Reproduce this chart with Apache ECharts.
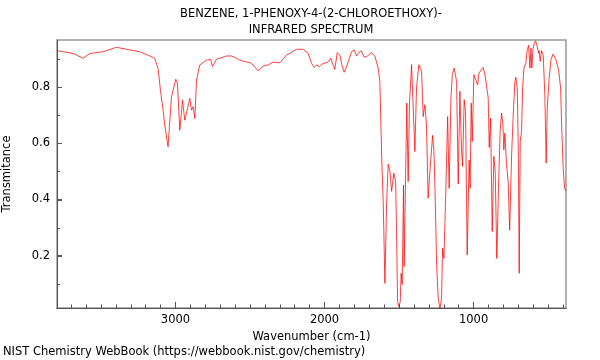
<!DOCTYPE html>
<html>
<head>
<meta charset="utf-8">
<script src="https://cdn.jsdelivr.net/npm/echarts@6/dist/echarts.min.js"></script>
<style>
html,body{margin:0;padding:0;background:#fff;}
#c{width:600px;height:360px;}
</style>
</head>
<body>
<div id="c"></div>
<script>
const wavenumbers = [3795,3687,3620,3575,3486,3396,3329,3240,3172,3139,3117,3101,3083,3072,3061,3050,3038,3027,3016,2998,2987,2971,2953,2938,2919,2904,2893,2882,2870,2859,2837,2792,2765,2752,2725,2658,2624,2591,2568,2490,2446,2412,2378,2345,2300,2255,2188,2143,2110,2087,2070,2054,2036,2020,1976,1958,1947,1931,1915,1897,1882,1868,1852,1819,1801,1785,1770,1754,1736,1718,1685,1662,1640,1629,1617,1606,1595,1584,1573,1561,1550,1535,1523,1517,1510,1501,1492,1486,1479,1470,1466,1457,1448,1439,1430,1416,1405,1394,1383,1367,1349,1338,1327,1316,1305,1293,1282,1275,1266,1259,1248,1237,1226,1215,1208,1199,1186,1174,1164,1152,1143,1130,1114,1103,1092,1081,1074,1063,1054,1043,1030,1023,1016,1009,998,986,973,964,951,936,924,913,902,895,886,875,864,855,844,833,822,812,803,797,790,779,768,758,745,734,723,716,707,700,694,687,678,671,662,649,640,631,622,615,609,602,593,584,573,564,560,553,544,533,522,513,506,500,493,481,466,448,430,416,408,399,389,380];
const transmittance = [0.931,0.921,0.904,0.921,0.927,0.943,0.936,0.927,0.912,0.904,0.868,0.790,0.719,0.665,0.669,0.588,0.683,0.766,0.761,0.829,0.814,0.647,0.755,0.683,0.725,0.761,0.719,0.731,0.689,0.826,0.880,0.897,0.900,0.874,0.900,0.912,0.912,0.904,0.897,0.886,0.859,0.876,0.880,0.890,0.888,0.915,0.936,0.936,0.921,0.886,0.871,0.880,0.874,0.882,0.891,0.904,0.886,0.864,0.924,0.915,0.876,0.854,0.874,0.927,0.933,0.912,0.924,0.931,0.909,0.909,0.924,0.911,0.869,0.821,0.559,0.381,0.101,0.381,0.526,0.500,0.429,0.494,0.464,0.286,0.036,0.018,0.036,0.137,0.097,0.452,0.161,0.452,0.744,0.464,0.744,0.881,0.887,0.571,0.798,0.881,0.857,0.696,0.738,0.666,0.405,0.500,0.500,0.629,0.571,0.440,0.166,0.047,0.010,0.047,0.226,0.190,0.440,0.696,0.440,0.762,0.845,0.869,0.821,0.455,0.786,0.577,0.518,0.756,0.714,0.202,0.541,0.440,0.744,0.607,0.845,0.851,0.809,0.851,0.857,0.871,0.847,0.851,0.762,0.586,0.690,0.286,0.554,0.500,0.190,0.440,0.643,0.708,0.666,0.577,0.637,0.524,0.464,0.291,0.559,0.702,0.821,0.836,0.798,0.571,0.137,0.607,0.643,0.798,0.869,0.887,0.934,0.950,0.869,0.940,0.869,0.934,0.958,0.966,0.946,0.922,0.931,0.893,0.931,0.916,0.774,0.530,0.726,0.720,0.833,0.899,0.919,0.899,0.863,0.798,0.643,0.512,0.440,0.430];

const xMajorTicks = [1000, 2000, 3000];
const xMinorTicks = [400,500,600,700,800,900,1100,1200,1300,1400,1500,1600,1700,1800,1900,2100,2200,2300,2400,2500,2600,2700,2800,2900,3100,3200,3300,3400,3500,3600,3700];
const yMajorTicks = [0.2, 0.4, 0.6, 0.8];
const yMinorTicks = [0.1, 0.3, 0.5, 0.7, 0.9];

const X_MIN = 380, X_MAX = 3795, Y_MIN = 0.013, Y_MAX = 0.969;
const FONT = 'DejaVu Sans';
const axisColor = '#555';

const chart = echarts.init(document.getElementById('c'), null, {renderer: 'canvas'});
const points = wavenumbers.map((w, i) => [w, transmittance[i]]);

function xAxisDef(ticks, len, main) {
  return {
    type: 'value', min: X_MIN, max: X_MAX, inverse: true, position: 'bottom', offset: 0,
    name: main ? 'Wavenumber (cm-1)' : '', nameLocation: 'middle', nameGap: 20,
    nameTextStyle: {fontFamily: FONT, fontSize: 11.5, color: '#000'},
    axisLine: {show: true, onZero: false, lineStyle: {color: axisColor, width: 1}},
    axisTick: {show: true, inside: true, length: len, customValues: ticks, lineStyle: {color: axisColor, width: 1}},
    axisLabel: {show: true, customValues: ticks, margin: 6, fontFamily: FONT, fontSize: 11.5, color: '#000',
      formatter: main ? (v => String(v)) : (() => '')},
    splitLine: {show: false}
  };
}

chart.setOption({
  animation: false,
  backgroundColor: '#fff',
  title: [
    {text: 'BENZENE, 1-PHENOXY-4-(2-CHLOROETHOXY)-\nINFRARED SPECTRUM', left: 311, top: 6, textAlign: 'center', padding: 0,
     textStyle: {fontFamily: FONT, fontSize: 11.5, fontWeight: 'normal', color: '#000', lineHeight: 16}},
    {text: 'NIST Chemistry WebBook (https://webbook.nist.gov/chemistry)', left: 3, top: 346, padding: 0,
     textStyle: {fontFamily: FONT, fontSize: 11.5, fontWeight: 'normal', color: '#000'}}
  ],
  grid: {left: 57, right: 34, top: 40, bottom: 52, containLabel: false, outerBoundsMode: 'none', show: true, borderColor: '#999', borderWidth: 1.5, backgroundColor: 'transparent'},
  xAxis: [xAxisDef(xMajorTicks, 6, true), xAxisDef(xMinorTicks, 3.5, false)],
  yAxis: {
    type: 'value', min: Y_MIN, max: Y_MAX, position: 'left',
    name: 'Transmitance', nameLocation: 'middle', nameGap: 44,
    nameTextStyle: {fontFamily: FONT, fontSize: 11.5, color: '#000'},
    axisLine: {show: true, onZero: false, lineStyle: {color: axisColor, width: 1}},
    axisTick: {show: true, inside: true, length: 5, customValues: yMajorTicks, lineStyle: {color: axisColor, width: 1}},
    axisLabel: {show: true, customValues: yMajorTicks, margin: 7, fontFamily: FONT, fontSize: 11.5, color: '#000', formatter: v => v.toFixed(1)},
    splitLine: {show: false}
  },
  series: [{
    type: 'line', data: points, xAxisIndex: 0, yAxisIndex: 0,
    showSymbol: false, symbol: 'none', smooth: false,
    lineStyle: {color: 'rgba(255,0,0,0.75)', width: 1},
    clip: true
  }]
});

// y-axis ticks placed through the chart's own y scale
const xLeft = chart.convertToPixel({xAxisIndex: 0}, X_MAX);
function tickLines(values, len) {
  return values.map(v => {
    const y = Math.round(chart.convertToPixel({yAxisIndex: 0}, v)) + 0.5;
    return {type: 'line', z: 100, silent: true,
      shape: {x1: xLeft, y1: y, x2: xLeft + len, y2: y},
      style: {stroke: axisColor, lineWidth: 1}};
  });
}
chart.setOption({graphic: tickLines(yMajorTicks, 5).concat(tickLines(yMinorTicks, 3))});
</script>
</body>
</html>
